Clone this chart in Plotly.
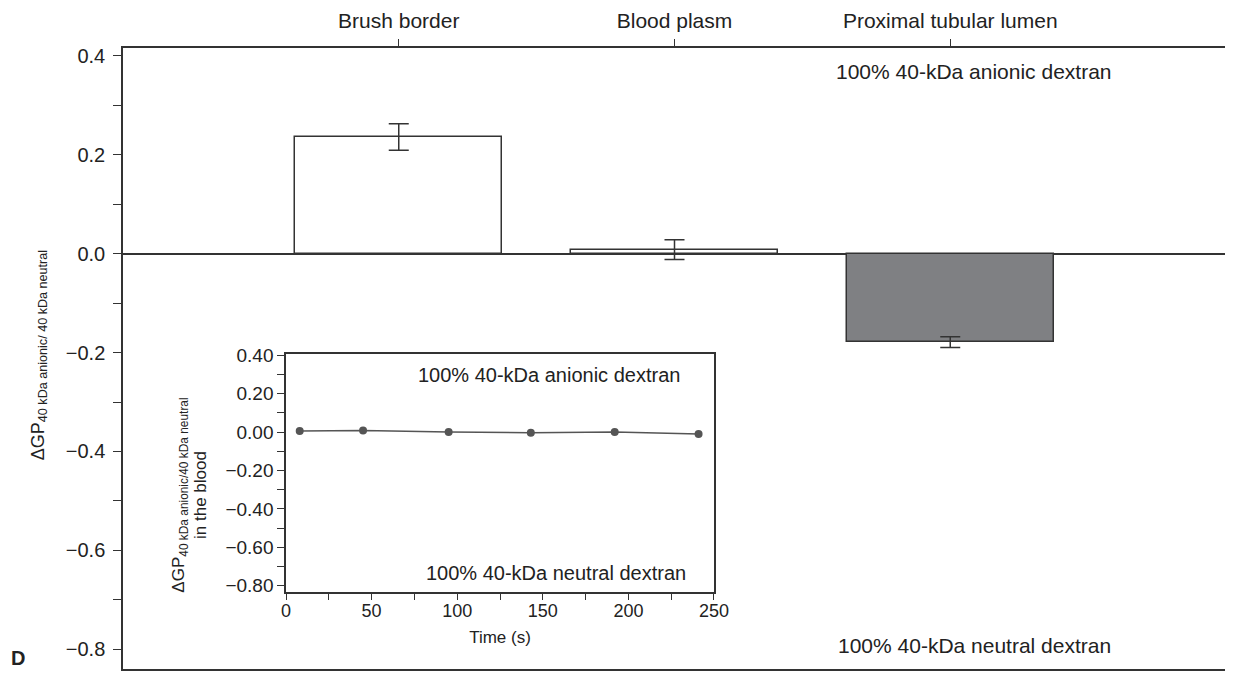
import plotly.graph_objects as go

# ---- data ----
categories = ["Brush border", "Blood plasm", "Proximal tubular lumen"]
bar_values = [0.236, 0.008, -0.179]
bar_errors = [0.027, 0.020, 0.011]
bar_colors = ["white", "white", "#7f8083"]

time_s = [8, 45, 95, 143, 192, 241]
blood_gp = [0.005, 0.008, 0.0, -0.003, 0.0, -0.010]

main_ticks = [-0.8, -0.6, -0.4, -0.2, 0.0, 0.2, 0.4]
inset_yticks = [-0.8, -0.6, -0.4, -0.2, 0.0, 0.2, 0.4]
inset_xticks = [0, 50, 100, 150, 200, 250]

FONT = "Liberation Sans, Arial, sans-serif"
INK = "#333333"
TXT = "#222222"

fig = go.Figure()

fig.add_trace(go.Bar(
    x=[0, 1, 2], y=bar_values, width=0.75,
    marker=dict(color=bar_colors, line=dict(color=INK, width=1.5)),
    error_y=dict(type="data", array=bar_errors, color=INK, thickness=1.5, width=10),
    xaxis="x", yaxis="y", showlegend=False,
))

fig.add_trace(go.Scatter(
    x=time_s, y=blood_gp, mode="lines+markers",
    line=dict(color="#555555", width=1.5),
    marker=dict(color="#555555", size=8),
    xaxis="x2", yaxis="y2", showlegend=False,
))

axis_common = dict(showgrid=False, linecolor=INK, linewidth=1.5, tickcolor=INK, automargin=False)

fig.update_layout(
    width=1218, height=677,
    margin=dict(l=115, r=0, t=40, b=16),
    paper_bgcolor="white", plot_bgcolor="white",
    font=dict(family=FONT, color=TXT),
    bargap=0,
    xaxis=dict(
        **axis_common, domain=[0, 1], range=[-1, 3], side="top",
        tickmode="array", tickvals=[0, 1, 2], ticktext=categories,
        tickfont=dict(family=FONT, size=21, color=TXT), ticklabelstandoff=3,
        ticks="outside", ticklen=7, showline=True, mirror=True, zeroline=False,
    ),
    yaxis=dict(
        **axis_common, domain=[0, 1], range=[-0.84, 0.416],
        tickmode="array", tickvals=main_ticks, tickformat=".1f",
        tickfont=dict(family=FONT, size=20, color=TXT), ticklabelstandoff=4,
        ticks="outside", ticklen=8, showline=True, mirror=True,
        zeroline=True, zerolinecolor=INK, zerolinewidth=1.5,
        minor=dict(dtick=0.1, tick0=0, ticks="outside", ticklen=8, tickcolor=INK),
    ),
    xaxis2=dict(
        **axis_common, domain=[0.1478, 0.5358], range=[0, 250], anchor="y2",
        tickmode="array", tickvals=inset_xticks,
        tickfont=dict(family=FONT, size=18, color=TXT), ticklabelstandoff=-5,
        ticks="outside", ticklen=6, showline=True, mirror=True, zeroline=False,
        minor=dict(dtick=25, tick0=0, ticks="outside", ticklen=6, tickcolor=INK),
        title=dict(text="Time (s)", font=dict(family=FONT, size=17, color=TXT), standoff=11),
    ),
    yaxis2=dict(
        **axis_common, domain=[0.1232, 0.5068], range=[-0.835, 0.405], anchor="x2",
        tickmode="array", tickvals=inset_yticks, tickformat=".2f",
        tickfont=dict(family=FONT, size=19, color=TXT),
        ticks="outside", ticklen=7, showline=True, mirror=True, zeroline=False,
        minor=dict(dtick=0.1, tick0=0, ticks="outside", ticklen=7, tickcolor=INK),
    ),
)

ann_font = dict(family=FONT, size=21, color=TXT)
inset_ann_font = dict(family=FONT, size=20, color=TXT)
fig.add_annotation(x=2.087, y=0.368, xref="x", yref="y", text="100% 40-kDa anionic dextran",
                   showarrow=False, font=ann_font)
fig.add_annotation(x=2.087, y=-0.792, xref="x", yref="y", text="100% 40-kDa neutral dextran",
                   showarrow=False, font=ann_font)
fig.add_annotation(x=153.6, y=0.297, xref="x2", yref="y2", text="100% 40-kDa anionic dextran",
                   showarrow=False, font=inset_ann_font)
fig.add_annotation(x=157.7, y=-0.732, xref="x2", yref="y2", text="100% 40-kDa neutral dextran",
                   showarrow=False, font=inset_ann_font)
# inset y-axis title
fig.add_annotation(x=0.0399, y=0.280, xref="paper", yref="paper", textangle=-90,
                   xanchor="left", yanchor="middle",
                   text="ΔGP<sub>40 kDa anionic/40 kDa neutral</sub><br>in the blood",
                   showarrow=False, font=dict(family=FONT, size=17, color=TXT))
# main y-axis title
fig.add_annotation(x=-0.088, y=0.506, xref="paper", yref="paper", textangle=-90,
                   xanchor="left", yanchor="middle",
                   text="ΔGP<sub>40 kDa anionic/ 40 kDa neutral</sub>",
                   showarrow=False, font=dict(family=FONT, size=18, color=TXT))
fig.add_annotation(x=-0.103, y=-0.003, xref="paper", yref="paper", text="<b>D</b>",
                   xanchor="left", yanchor="bottom",
                   showarrow=False, font=dict(family=FONT, size=20, color=TXT))

fig.write_html("out.html")
